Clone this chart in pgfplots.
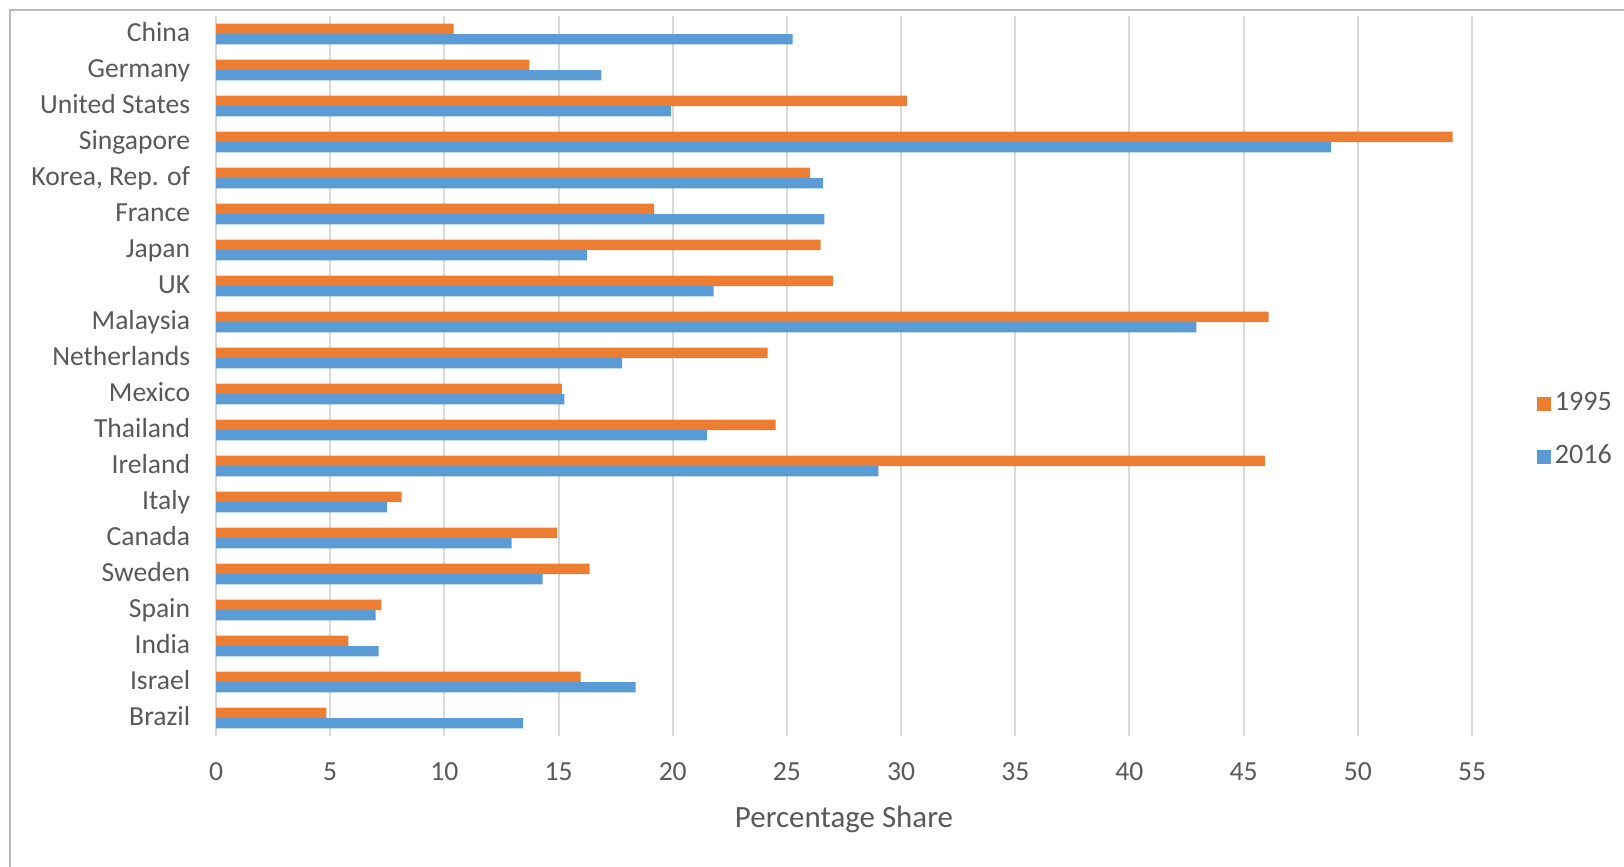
\documentclass[border=0pt]{standalone}
\usepackage{pgfplots}
\pgfplotsset{compat=1.18}
\usepackage{fontspec}
\setmainfont{Carlito}
\definecolor{orng}{HTML}{ED7D31}
\definecolor{blu}{HTML}{5B9BD5}
\definecolor{txt}{HTML}{595959}
\definecolor{grd}{HTML}{D9D9D9}
\begin{document}
\begin{tikzpicture}[x=1mm,y=1mm]
\useasboundingbox (0,0) rectangle (162.4,-86.7);
\fill[white] (0,0) rectangle (162.4,-86.7);
\draw[line width=0.2mm, color=gray!55] (1.04,-86.7) -- (1.04,-1.04) -- (162.4,-1.04);
\begin{axis}[
  at={(21.6mm,-73.6mm)}, anchor=south west,
  width=125.6mm, height=72mm, scale only axis,
  xbar, bar width=1.04mm,
  xmin=0, xmax=55, ymin=-0.5, ymax=19.5,
  y dir=reverse,
  xtick={0,5,...,55},
  ytick={0,...,19},
  yticklabels={China,Germany,United States,Singapore,{Korea, Rep. of},France,Japan,UK,Malaysia,Netherlands,Mexico,Thailand,Ireland,Italy,Canada,Sweden,Spain,India,Israel,Brazil},
  /pgf/number format/assume math mode=true,
  axis line style={draw=none},
  major tick length=0pt,
  xmajorgrids, grid style={grd, line width=0.2mm},
  tick label style={font=\fontsize{7.85}{9.4}\selectfont, text=txt},
  xticklabel style={yshift=-1.45mm},
  yticklabel style={xshift=-1.35mm, yshift=0.35mm, text height=0.65em, text depth=0pt},
  xlabel={Percentage Share},
  xlabel style={font=\fontsize{8.8}{10}\selectfont, text=txt, at={(axis description cs:0.5,0)}, anchor=center, yshift=-8.3mm},
  legend style={at={(axis description cs:1.0515,0.4242)}, anchor=west, draw=none, fill=none, inner xsep=0pt, inner ysep=0pt, row sep=2.2mm, nodes={inner sep=1pt, text depth=0.15em}, font=\fontsize{8}{9.6}\selectfont, text=txt},
  legend cell align=left,
  legend image code/.code={\fill[#1] (0mm,-0.7mm) rectangle (1.4mm,0.7mm);},
]
\addplot[fill=orng, draw=none, bar shift=0.52mm] coordinates {(10.4,0) (13.72,1) (30.25,2) (54.15,3) (26.02,4) (19.18,5) (26.48,6) (27.01,7) (46.09,8) (24.15,9) (15.14,10) (24.51,11) (45.93,12) (8.13,13) (14.94,14) (16.36,15) (7.24,16) (5.80,17) (15.97,18) (4.83,19)};
\addlegendentry{1995}
\addplot[fill=blu, draw=none, bar shift=-0.52mm] coordinates {(25.25,0) (16.88,1) (19.93,2) (48.83,3) (26.57,4) (26.64,5) (16.24,6) (21.79,7) (42.93,8) (17.78,9) (15.26,10) (21.49,11) (29.01,12) (7.49,13) (12.94,14) (14.30,15) (6.99,16) (7.12,17) (18.37,18) (13.45,19)};
\addlegendentry{2016}
\end{axis}
\end{tikzpicture}
\end{document}
